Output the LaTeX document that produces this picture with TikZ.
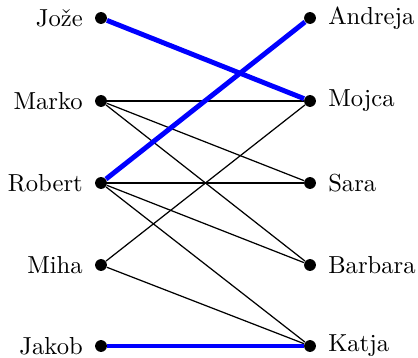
\documentclass[tikz,border=0pt]{standalone}
\begin{document}
\begin{tikzpicture}[x=0.4065pt,y=-0.4065pt,
  vtx/.style={circle,fill=black,inner sep=0pt,minimum size=4.8pt},
  edge/.style={line width=0.5pt},
  match/.style={line width=2pt,blue}]
\useasboundingbox (0,0) rectangle (418,358);
\node[vtx,label={[label distance=1.3pt]left:Jože}] (joze) at (101,18) {};
\node[vtx,label={[label distance=1.3pt]left:Marko}] (marko) at (101,101) {};
\node[vtx,label={[label distance=1.3pt]left:Robert}] (robert) at (101,183) {};
\node[vtx,label={[label distance=1.3pt]left:Miha}] (miha) at (101,265) {};
\node[vtx,label={[label distance=1.3pt]left:Jakob}] (jakob) at (101,346) {};
\node[vtx,label={[label distance=1.3pt]right:Andreja}] (andreja) at (310,18) {};
\node[vtx,label={[label distance=1.3pt]right:Mojca}] (mojca) at (310,101) {};
\node[vtx,label={[label distance=1.3pt]right:Sara}] (sara) at (310,183) {};
\node[vtx,label={[label distance=1.3pt]right:Barbara}] (barbara) at (310,265) {};
\node[vtx,label={[label distance=1.3pt]right:Katja}] (katja) at (310,346) {};
\draw[edge] (marko) -- (mojca);
\draw[edge] (marko) -- (sara);
\draw[edge] (marko) -- (barbara);
\draw[edge] (robert) -- (sara);
\draw[edge] (robert) -- (barbara);
\draw[edge] (robert) -- (katja);
\draw[edge] (miha) -- (mojca);
\draw[edge] (miha) -- (katja);
\draw[match] (joze) -- (mojca);
\draw[match] (robert) -- (andreja);
\draw[match] (jakob) -- (katja);
\end{tikzpicture}
\end{document}
